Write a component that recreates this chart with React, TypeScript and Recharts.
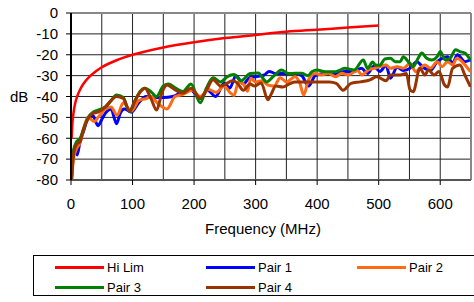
import { LineChart, Line, XAxis, YAxis, CartesianGrid, ReferenceLine } from 'recharts';

// frequency (MHz), level (dB)
const hiLim: [number, number][] = [
  [1, -60], [2, -54], [3, -50.5], [5, -46], [7, -43], [10, -40], [15, -36.5], [20, -34],
  [30, -30.5], [40, -28], [50, -26], [75, -22.5], [100, -20], [150, -16.5], [200, -14],
  [250, -12], [300, -10.5], [350, -9], [400, -8], [450, -7], [500, -6],
];

const pair1: [number, number][] = [
  [1, -79], [3, -70], [6, -64], [10, -68], [15, -61], [20, -57], [28, -50], [35, -49],
  [44, -54], [50, -51], [56, -48], [65, -46], [74, -53], [80, -48], [87, -46], [98, -47.5],
  [110, -43], [122, -40], [135, -40.5], [150, -40.5], [165, -40], [180, -38], [195, -37],
  [210, -41], [222, -37], [235, -40], [249, -33.7], [258, -36], [268, -30], [280, -34],
  [290, -31], [300, -30.5], [314, -29.7], [322, -28], [333, -29], [345, -29], [364, -29],
  [375, -30], [386, -35], [397, -30], [413, -29], [430, -29], [445, -28], [460, -28],
  [472, -26.5], [482, -29], [492, -25.5], [502, -28], [512, -25], [519, -31.3], [530, -26],
  [540, -27.5], [551, -26.5], [562, -23.3], [572, -26], [584, -27.5], [595, -23.3],
  [603, -21.7], [612, -21], [620, -24], [628, -20], [640, -23.3], [649, -22.5],
];

const pair2: [number, number][] = [
  [1, -80], [4, -70], [9, -65], [15, -62], [20, -56], [28, -50], [38, -52], [44, -50],
  [56, -46], [65, -45], [75, -49], [85, -43], [98, -47], [110, -42], [122, -41], [130, -40],
  [140, -43], [156, -46], [169, -40], [182, -39], [197, -37], [210, -40], [224, -36.7],
  [236, -38], [249, -35], [258, -38], [265, -39.5], [272, -33], [280, -34], [287, -37.5],
  [292, -31.3], [300, -33], [310, -32.5], [320, -34.5], [330, -35], [340, -31], [350, -33],
  [364, -30.5], [372, -33.7], [378, -39.3], [386, -32], [397, -29], [407, -29.7],
  [418, -28.9], [430, -30.5], [440, -28.9], [451, -29.7], [465, -27.5], [473, -29.7],
  [483, -27.3], [492, -26.5], [502, -25.7], [512, -24.9], [519, -26.5], [530, -25.7],
  [540, -26.5], [551, -24.1], [560, -28.1], [567, -26.5], [575, -24.9], [584, -26.5],
  [595, -23.3], [603, -25.7], [612, -23.3], [620, -24.9], [627, -21.7], [638, -24.1],
  [649, -28.1],
];

const pair3: [number, number][] = [
  [1, -78], [4, -66], [9, -61.7], [15, -60], [20, -56], [28, -50], [36, -47.5], [44, -46.5],
  [56, -45], [65, -42], [74, -39.3], [85, -40.5], [95, -47.3], [104, -42], [112, -37.7],
  [120, -36], [131, -38], [139, -40], [150, -35], [159, -34], [170, -36], [182, -37.6],
  [195, -34], [210, -43], [220, -36], [231, -31], [243, -33], [254, -30.5], [265, -29.5],
  [276, -32.5], [291, -29], [304, -28.7], [318, -33], [330, -30], [342, -27.3], [353, -29],
  [364, -28.9], [375, -28.9], [385, -30], [392, -28], [400, -27.3], [413, -28.1],
  [430, -28.1], [445, -26.5], [460, -27.3], [475, -22.5], [482, -26.5], [490, -23.5],
  [495, -24.9], [502, -25], [510, -22], [519, -21.7], [527, -23.3], [535, -23.3],
  [540, -20.9], [548, -23.3], [556, -25.7], [564, -21.7], [570, -19.2], [578, -21.7],
  [586, -22.5], [595, -20.9], [600, -18.5], [608, -22.5], [616, -21.7], [625, -17.6],
  [632, -18.5], [640, -19.2], [649, -22.5],
];

const pair4: [number, number][] = [
  [1, -80], [4, -68], [9, -63], [15, -61.5], [20, -56], [28, -50.5], [36, -48], [44, -47.5],
  [56, -45], [65, -42], [74, -40], [85, -41], [95, -47], [104, -42], [112, -38], [120, -36],
  [130, -41], [139, -46.5], [148, -38], [156, -34.5], [170, -37], [182, -38.4], [195, -36],
  [210, -40.8], [220, -37], [231, -32], [243, -35], [252, -34], [262, -32.5], [270, -33.5],
  [280, -37], [291, -34], [298, -35], [309, -33.5], [320, -41.6], [325, -39], [333, -35],
  [344, -35.5], [355, -34], [364, -33], [380, -33], [400, -33], [420, -33], [431, -33.7],
  [442, -37], [455, -33.7], [470, -33], [486, -32], [497, -30.5], [512, -32.5],
  [519, -29.7], [535, -29.7], [545, -29], [551, -36.9], [556, -37.7], [567, -26.5],
  [575, -29.7], [581, -27.3], [590, -29.7], [598, -28], [607, -34.5], [612, -35.5],
  [620, -26.5], [632, -24.9], [640, -29.7], [649, -35.3],
];

const xTicks = [0, 100, 200, 300, 400, 500, 600];
const yTicks = [-80, -70, -60, -50, -40, -30, -20, -10, 0];
const xGrid = [0, 50, 100, 150, 200, 250, 300, 350, 400, 450, 500, 550, 600, 650];

const series = [
  { name: 'Hi Lim', data: hiLim, color: '#ff0000', width: 2.5 },
  { name: 'Pair 1', data: pair1, color: '#0000ff', width: 3 },
  { name: 'Pair 2', data: pair2, color: '#ff6a13', width: 3 },
  { name: 'Pair 3', data: pair3, color: '#008000', width: 3 },
  { name: 'Pair 4', data: pair4, color: '#993300', width: 3 },
];

const FONT = '"Liberation Sans", Arial, sans-serif';

function LegendBox() {
  const cols = [21, 172, 323];
  return (
    <div
      style={{
        position: 'absolute',
        left: 33,
        top: 255,
        width: 441,
        height: 41,
        borderTop: '1px solid #000',
        borderBottom: '1px solid #000',
        borderLeft: '1px solid #000',
        fontFamily: FONT,
        fontSize: 13,
        boxSizing: 'border-box',
      }}
    >
      {series.map((s, i) => {
        const left = cols[i % 3];
        const top = i < 3 ? 11 : 31;
        return (
          <div key={s.name} style={{ position: 'absolute', left, top: top - 8, height: 16, display: 'flex', alignItems: 'center' }}>
            <div style={{ width: 49, height: 3, background: s.color }} />
            <span style={{ marginLeft: 3, color: '#000' }}>{s.name}</span>
          </div>
        );
      })}
    </div>
  );
}

export default function App() {
  return (
    <div style={{ position: 'absolute', left: 0, top: 0, width: 474, height: 302, background: '#fff' }}>
      <LineChart
        width={474}
        height={302}
        margin={{ top: 13, right: 3, bottom: 62, left: 0 }}
        style={{ fontFamily: FONT }}
      >
        <CartesianGrid
          stroke="#222"
          strokeWidth={1}
          horizontalValues={yTicks}
          verticalValues={xGrid}
        />
        <XAxis
          type="number"
          dataKey="0"
          domain={[0, 650]}
          ticks={xTicks}
          interval={0}
          allowDataOverflow
          height={60}
          tickSize={5}
          tickMargin={13}
          tick={{ fill: '#000', fontSize: 15 }}
          tickLine={{ stroke: '#000' }}
          axisLine={{ stroke: '#555', strokeWidth: 2 }}
          label={{ value: 'Frequency (MHz)', position: 'insideBottom', offset: 6, dx: -8, fill: '#000', fontSize: 15 }}
        />
        <YAxis
          type="number"
          dataKey="1"
          domain={[-80, 0]}
          ticks={yTicks}
          interval={0}
          allowDataOverflow
          width={71}
          tickSize={5}
          tickMargin={8}
          tick={{ fill: '#000', fontSize: 15 }}
          tickLine={{ stroke: '#000' }}
          axisLine={{ stroke: '#000', strokeWidth: 2 }}
          label={{ value: 'dB', position: 'insideLeft', offset: 10, fill: '#000', fontSize: 15 }}
        />
        <ReferenceLine y={0} stroke="#888" strokeWidth={2} />
        <ReferenceLine x={650} stroke="#888" strokeWidth={2} />
        {series.map((s) => (
          <Line
            key={s.name}
            data={s.data}
            dataKey="1"
            name={s.name}
            type="monotone"
            stroke={s.color}
            strokeWidth={s.width}
            dot={false}
            activeDot={false}
            isAnimationActive={false}
          />
        ))}
      </LineChart>
      <LegendBox />
    </div>
  );
}
